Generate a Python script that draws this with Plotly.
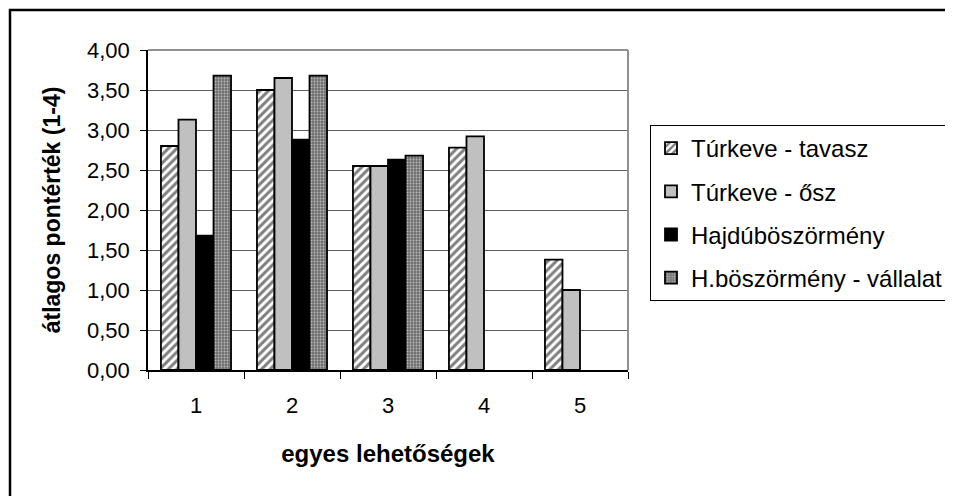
import plotly.graph_objects as go

categories = ["1", "2", "3", "4", "5"]
turkeve_tavasz = [2.80, 3.50, 2.55, 2.78, 1.38]
turkeve_osz = [3.13, 3.65, 2.55, 2.92, 1.00]
hajduboszormeny = [1.68, 2.88, 2.63, None, None]
hb_vallalat = [3.68, 3.68, 2.68, None, None]
series_names = ["Túrkeve - tavasz", "Túrkeve - ősz", "Hajdúböszörmény", "H.böszörmény - vállalat"]
y_ticks = [0, 0.5, 1, 1.5, 2, 2.5, 3, 3.5, 4]

FONT = "Arial, Liberation Sans, sans-serif"
OFF = 8  # page body margin
W, H = 953 - OFF, 496 - OFF
L, R, T, B = 148 - OFF, 628 - OFF, 50 - OFF, 370 - OFF


def px(x):
    return (x - OFF - L) / (R - L)


def py(y):
    return (B - (y - OFF)) / (B - T)


line = dict(color="black", width=1.8)
fig = go.Figure()
fig.add_trace(go.Bar(x=categories, y=turkeve_tavasz, name=series_names[0], legendgroup="a",
                     marker=dict(color="white", line=line,
                                 pattern=dict(shape="/", fgcolor="black", bgcolor="white",
                                              size=6, solidity=0.5))))
fig.add_trace(go.Bar(x=categories, y=turkeve_osz, name=series_names[1], legendgroup="b",
                     marker=dict(color="#C0C0C0", line=line)))
fig.add_trace(go.Bar(x=categories, y=hajduboszormeny, name=series_names[2], legendgroup="c",
                     marker=dict(color="black", line=line)))
fig.add_trace(go.Bar(x=categories, y=hb_vallalat, name=series_names[3], legendgroup="d",
                     marker=dict(color="#808080", line=line,
                                 pattern=dict(shape=".", fgcolor="white", bgcolor="#707070",
                                              size=3, solidity=0.3))))

fig.update_layout(
    width=W, height=H,
    margin=dict(l=L, r=W - R, t=T, b=H - B, pad=0, autoexpand=False),
    paper_bgcolor="white", plot_bgcolor="white",
    font=dict(family=FONT, size=22, color="black"),
    separators=", ",
    barmode="group", bargap=0.27, bargroupgap=0,
    showlegend=True,
    legend=dict(x=px(650), xanchor="left", y=py(125), yanchor="top",
                bordercolor="black", borderwidth=1, bgcolor="white",
                font=dict(family=FONT, size=24, color="black"),
                traceorder="grouped", tracegroupgap=9, itemwidth=30),
    xaxis=dict(type="category", showgrid=False, showline=True, linecolor="black", linewidth=1.5,
               ticks="outside", ticklen=7, tickcolor="black", tickson="boundaries",
               ticklabelstandoff=15, tickfont=dict(size=22),
               title=dict(text="<b>egyes lehetőségek</b>", font=dict(size=24), standoff=28)),
    yaxis=dict(range=[0, 4], tickvals=y_ticks, tickformat=".2f", showgrid=True,
               gridcolor="#606060", gridwidth=1, showline=True, linecolor="black", linewidth=1.5,
               ticks="outside", ticklen=6, tickcolor="black", zeroline=False,
               tickfont=dict(size=22), ticklabelstandoff=6,
               title=dict(text="<b>átlagos pontérték (1-4)</b>", font=dict(size=23), standoff=20)),
    shapes=[
        dict(type="line", xref="paper", yref="paper", x0=0, x1=1, y0=1, y1=1,
             line=dict(color="#909090", width=2)),
        dict(type="line", xref="paper", yref="paper", x0=1, x1=1, y0=0, y1=1,
             line=dict(color="#909090", width=2)),
        dict(type="rect", xref="paper", yref="paper",
             x0=px(10), x1=px(990), y0=py(530), y1=py(10),
             line=dict(color="black", width=2.5), fillcolor="rgba(0,0,0,0)", layer="below"),
    ],
)

fig.write_html("out.html")
